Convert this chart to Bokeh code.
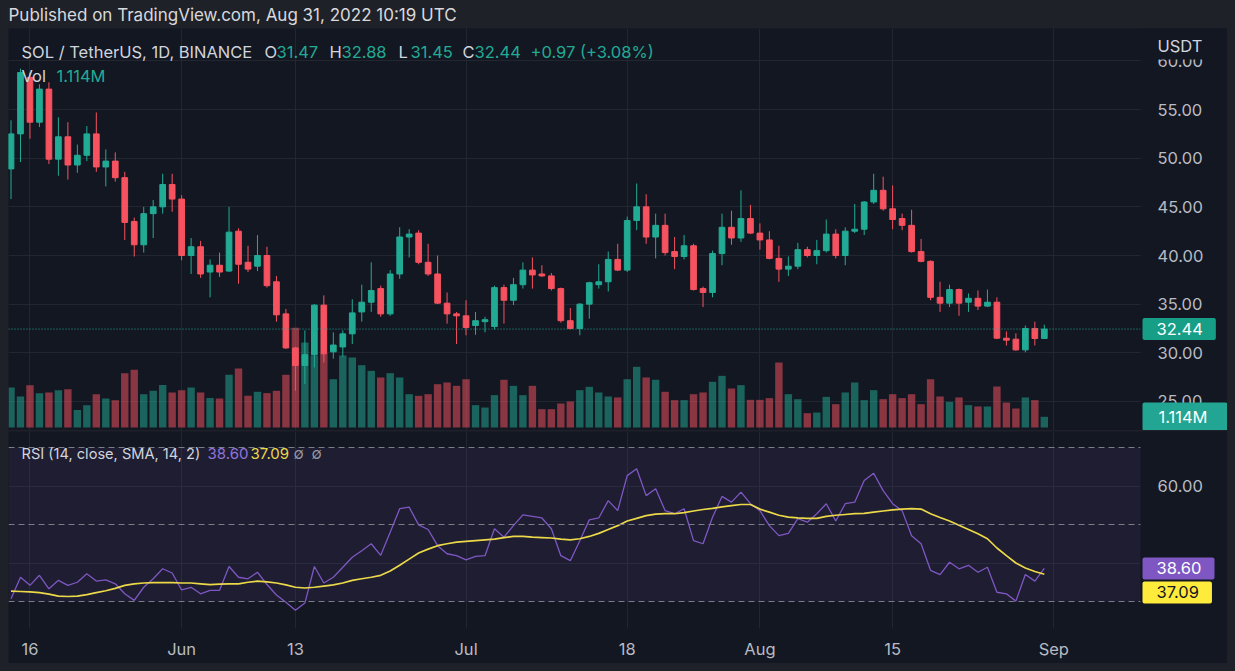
from datetime import date
from bokeh.plotting import figure
from bokeh.layouts import column, row
from bokeh.models import (Range1d, FixedTicker, Span, BoxAnnotation, Label, Spacer,
                          ColumnDataSource, GlobalInlineStyleSheet)
from bokeh.embed import file_html
from bokeh.resources import INLINE

# ---------------- data ----------------
start_date = date(2022, 5, 14)

opens = [48.9, 52.5, 58.3, 53.7, 57.1, 49.9, 52.2, 49.3, 50.3, 52.5,
         49.1, 49.7, 48.0, 43.5, 41.1, 44.3, 45.0, 47.3, 45.8, 40.0,
         40.9, 38.3, 39.0, 38.4, 42.5, 39.3, 38.9, 40.0, 37.3, 34.0,
         30.5, 28.7, 29.8, 34.9, 30.1, 30.6, 31.95, 34.2, 35.2, 36.6,
         34.0, 38.1, 41.9, 42.3, 39.3, 38.1, 35.1, 34.0, 33.8, 32.8,
         33.2, 32.7, 36.7, 35.4, 37.0, 38.5, 38.1, 37.9, 36.6, 33.3,
         32.5, 35.0, 37.0, 37.3, 39.6, 38.5, 43.6, 45.0, 41.9, 43.1,
         40.4, 39.9, 41.0, 36.6, 36.2, 40.2, 42.9, 41.8, 43.8, 42.3,
         41.6, 39.7, 38.6, 38.9, 40.6, 40.0, 40.5, 42.2, 40.0, 42.5,
         42.7, 45.5, 46.7, 44.8, 43.8, 43.1, 40.4, 39.4, 35.7, 35.1,
         36.5, 35.2, 35.6, 34.8, 35.2, 31.5, 31.4, 30.3, 32.5, 31.47]
highs = [53.9, 59.2, 58.8, 57.6, 57.8, 54.2, 53.7, 51.4, 53.3, 54.7,
         50.9, 50.6, 48.6, 43.9, 45.0, 45.7, 48.4, 48.4, 46.2, 41.8,
         41.5, 39.6, 40.3, 45.0, 42.8, 41.0, 42.1, 40.9, 37.9, 34.5,
         30.6, 32.3, 35.0, 35.9, 32.1, 32.3, 35.5, 37.0, 39.3, 36.9,
         38.5, 42.9, 42.7, 42.6, 41.2, 40.0, 36.2, 34.2, 35.4, 34.2,
         33.7, 36.9, 37.0, 37.7, 39.3, 39.8, 39.0, 38.2, 36.7, 34.6,
         35.1, 37.3, 39.1, 40.4, 41.2, 44.0, 47.4, 46.3, 44.3, 44.3,
         41.9, 42.1, 41.2, 36.8, 40.5, 44.3, 44.6, 46.7, 45.2, 43.3,
         42.5, 41.0, 39.9, 41.3, 40.9, 41.6, 43.7, 42.7, 42.9, 45.3,
         45.6, 48.4, 48.1, 47.2, 44.3, 44.7, 41.7, 39.5, 37.3, 37.0,
         36.6, 36.1, 36.4, 36.5, 35.7, 32.2, 32.0, 32.8, 33.2, 32.88]
lows = [45.8, 49.6, 52.0, 53.2, 49.4, 48.2, 47.8, 48.5, 49.7, 48.6,
        47.1, 47.6, 41.6, 39.9, 40.3, 41.8, 44.3, 44.5, 39.5, 38.1,
        37.7, 35.7, 37.8, 38.3, 37.1, 38.3, 38.4, 36.7, 33.2, 30.4,
        26.1, 26.8, 28.5, 29.0, 29.4, 29.6, 30.9, 33.2, 34.2, 33.7,
        33.8, 37.6, 39.8, 39.1, 37.9, 35.0, 33.0, 30.9, 31.8, 31.85,
        32.1, 32.4, 33.0, 34.9, 36.6, 36.6, 37.8, 36.4, 33.1, 32.4,
        31.8, 33.5, 36.6, 36.3, 38.4, 38.3, 42.6, 41.2, 39.7, 40.0,
        38.6, 39.6, 36.4, 34.7, 35.7, 39.0, 41.1, 41.4, 42.2, 40.6,
        39.6, 37.3, 37.9, 38.6, 39.8, 39.1, 40.3, 39.7, 39.0, 42.3,
        42.1, 45.3, 44.6, 42.7, 42.6, 40.3, 39.3, 35.4, 34.2, 34.7,
        33.8, 34.2, 34.4, 34.7, 31.4, 30.75, 30.2, 30.05, 30.75, 31.45]
closes = [52.5, 58.8, 53.7, 57.1, 49.9, 52.2, 49.3, 50.3, 52.5, 49.1,
          49.7, 48.0, 43.4, 41.1, 44.3, 45.0, 47.3, 45.8, 40.0, 40.9,
          38.1, 39.0, 38.3, 42.4, 39.1, 38.6, 40.0, 36.9, 33.9, 30.5,
          28.7, 29.8, 34.9, 29.9, 30.8, 31.95, 34.1, 35.2, 36.4, 34.0,
          38.1, 41.9, 42.2, 39.3, 38.1, 35.1, 34.0, 33.8, 32.6, 33.3,
          33.4, 36.7, 35.4, 37.0, 38.5, 38.0, 37.9, 36.6, 33.3, 32.5,
          35.0, 37.2, 37.3, 39.6, 38.5, 43.6, 45.0, 41.9, 43.1, 40.3,
          39.9, 41.0, 36.5, 36.2, 40.2, 42.9, 41.8, 43.8, 42.3, 41.6,
          39.7, 38.6, 38.9, 40.6, 40.0, 40.5, 42.2, 40.0, 42.5, 42.7,
          45.5, 46.7, 44.8, 43.7, 43.1, 40.4, 39.4, 35.7, 35.1, 36.5,
          35.1, 35.6, 34.8, 35.2, 31.5, 31.3, 30.3, 32.5, 31.47, 32.44]
volumes_m = [4.17, 3.23, 4.41, 3.58, 3.65, 3.89, 3.99, 1.81, 2.33, 3.47,
             3.02, 2.85, 5.66, 6.01, 3.47, 3.82, 4.44, 3.65, 3.89, 4.17,
             3.65, 3.06, 3.02, 5.49, 6.15, 3.30, 3.72, 3.58, 3.82, 5.49,
             10.4, 8.85, 7.5, 7.7, 5.03, 7.5, 7.29, 6.49, 5.90, 5.21,
             5.66, 5.21, 3.47, 3.30, 3.47, 4.51, 4.69, 4.34, 5.03, 2.33,
             2.08, 3.37, 4.97, 4.34, 3.37, 4.34, 1.91, 1.91, 2.50, 2.71,
             3.89, 4.24, 3.65, 3.23, 3.13, 5.03, 6.32, 5.21, 4.97, 3.72,
             2.85, 2.85, 3.47, 3.65, 4.76, 5.38, 4.06, 4.41, 2.88, 2.88,
             3.06, 6.77, 3.47, 2.95, 1.49, 1.56, 3.19, 2.43, 3.65, 4.69,
             2.85, 3.89, 2.95, 3.47, 3.06, 3.47, 2.43, 5.03, 3.23, 2.67,
             3.13, 2.33, 2.19, 2.19, 4.27, 2.60, 1.98, 3.13, 2.85, 1.114]
rsi = [30.7, 36.3, 34.2, 36.8, 33.3, 35.5, 34.2, 35.0, 37.2, 35.3,
       35.6, 34.6, 32.0, 30.3, 33.7, 35.9, 38.5, 37.4, 33.0, 33.7,
       32.0, 32.9, 32.9, 39.1, 36.3, 35.9, 37.6, 34.4, 31.7, 29.8,
       27.7, 29.6, 39.1, 34.8, 36.3, 38.9, 41.5, 43.2, 45.0, 42.0,
       48.0, 54.1, 54.5, 49.9, 48.7, 44.5, 42.4, 41.9, 40.8, 41.7,
       41.9, 48.9, 46.7, 49.7, 52.5, 52.1, 51.7, 48.9, 41.9, 40.6,
       45.8, 51.2, 51.7, 56.2, 53.6, 62.7, 64.5, 57.5, 59.3, 53.6,
       52.8, 54.1, 45.8, 45.0, 51.9, 57.3, 55.8, 58.4, 55.4, 53.6,
       49.7, 47.1, 47.7, 51.5, 50.6, 52.8, 55.4, 50.9, 55.4, 55.8,
       61.4, 63.3, 58.8, 55.4, 53.6, 47.1, 45.0, 38.1, 37.0, 40.2,
       38.5, 39.4, 37.6, 38.9, 32.4, 32.0, 30.1, 37.0, 35.3, 38.60]
rsi_ma = [32.7, 32.6, 32.5, 32.3, 31.9, 31.4, 31.3, 31.4, 31.8, 32.3,
          32.8, 33.4, 34.2, 34.6, 34.8, 34.9, 34.9, 34.9, 34.8, 34.8,
          34.6, 34.4, 34.5, 34.6, 34.6, 35.0, 35.3, 35.1, 34.8, 34.3,
          33.7, 33.5, 33.7, 34.0, 34.3, 34.8, 35.5, 35.9, 36.3, 36.8,
          37.9, 39.4, 41.0, 42.6, 43.6, 44.5, 45.0, 45.4, 45.6, 45.8,
          46.0, 46.2, 46.6, 46.9, 46.9, 46.7, 46.6, 46.5, 46.2, 46.0,
          46.3, 46.9, 47.7, 48.7, 49.7, 50.9, 51.6, 52.3, 52.7, 52.8,
          52.8, 53.1, 53.5, 53.9, 54.2, 54.6, 54.9, 55.2, 55.2, 54.0,
          53.2, 52.4, 51.9, 51.7, 51.6, 51.6, 52.1, 52.4, 52.6, 52.8,
          52.9, 53.2, 53.5, 53.8, 54.0, 54.1, 54.0, 52.8, 51.8, 50.9,
          49.8, 48.7, 47.6, 46.3, 43.9, 41.9, 40.0, 38.7, 37.8, 37.09]

tick_dates = [date(2022, 5, 16), date(2022, 6, 1), date(2022, 6, 13), date(2022, 7, 1),
              date(2022, 7, 18), date(2022, 8, 1), date(2022, 8, 15), date(2022, 9, 1)]
tick_labels = ["16", "Jun", "13", "Jul", "18", "Aug", "15", "Sep"]
price_ticks = [25, 30, 35, 40, 45, 50, 55, 60]
rsi_ticks = [40, 60]
rsi_label_ticks = [60]          # 40.00 is hidden behind the value tags
rsi_levels = [70, 50, 30]

header_text = "Published on TradingView.com, Aug 31, 2022 10:19 UTC"
symbol_text = "SOL / TetherUS, 1D, BINANCE"
change_text = "+0.97 (+3.08%)"
vol_text = "1.114M"
rsi_title = "RSI (14, close, SMA, 14, 2)"
currency_text = "USDT"

# ---------------- style / layout constants ----------------
BG = "#131722"
HDR = "#1f2128"
GRID = "#222631"
UP = "#22ab94"
DN = "#f7525f"
TXT = "#d1d4dc"
AXTXT = "#b8bbc3"
PURPLE = "#7e57c2"
YELLOW = "#ecd949"
FONT = "Inter"
FS = "16.5px"
FS_RSI = "15px"

PAGE_W = 1235
LEFT = 8
W = 1219                 # chart frame width (page x 8 .. 1227)
SCALE_X = 1140 - LEFT    # where the price scale starts (frame px)
HEADER_H = 28
MAIN_H = 402             # page y 28 .. 430
RSI_FRAME = 197          # page y 431 .. 628
RSI_H = RSI_FRAME + 35   # time axis below
PX_PER_DAY = 9.48
PX_PER_USD = 9.73
PX_PER_MVOL = 9.6
PX_PER_RSI = 3.85

X0 = -2.5 / PX_PER_DAY
xr = Range1d(X0, X0 + W / PX_PER_DAY)
x_scale = X0 + SCALE_X / PX_PER_DAY

n = len(closes)
xs = list(range(n))
is_up = [c >= o for o, c in zip(opens, closes)]
src = ColumnDataSource(dict(
    x=xs, o=opens, h=highs, l=lows, c=closes,
    top=[max(o, c) for o, c in zip(opens, closes)],
    bot=[min(o, c) for o, c in zip(opens, closes)],
    vol=volumes_m,
    col=[UP if u else DN for u in is_up],
))
tick_pos = [(d - start_date).days for d in tick_dates]
BOX_PAD = dict(left=14, right=13, top=5, bottom=5)


def lab(fig, x, y, text, color, size=FS, xu="screen", yu="screen", **kw):
    fig.add_layout(Label(x=x, y=y, x_units=xu, y_units=yu, text=text, text_color=color,
                         text_font=FONT, text_font_size=size, text_baseline="middle",
                         text_align="left", **kw))


def base_fig(height, yrange, bottom_border, x_axis):
    f = figure(width=W, height=height, x_range=xr, y_range=yrange,
               toolbar_location=None, output_backend="svg",
               x_axis_location="below" if x_axis else None, y_axis_location=None,
               min_border_left=0, min_border_right=0, min_border_top=0,
               min_border_bottom=bottom_border, background_fill_color=BG,
               border_fill_color=BG, outline_line_color=None)
    f.xgrid.ticker = FixedTicker(ticks=tick_pos)
    f.grid.grid_line_color = GRID
    return f


# ---------------- header ----------------
hdr = figure(width=PAGE_W, height=HEADER_H, x_range=Range1d(0, 1), y_range=Range1d(0, 1),
             toolbar_location=None, output_backend="svg", x_axis_location=None,
             y_axis_location=None, min_border=0, background_fill_color=HDR,
             border_fill_color=HDR, outline_line_color=None)
hdr.grid.visible = False
lab(hdr, 8, 14, header_text, "#d8d9dc", size="17px")

# ---------------- main pane ----------------
p_lo = 30 - (430 - 352.3) / PX_PER_USD
v_lo = -3 / PX_PER_MVOL
p = base_fig(MAIN_H, Range1d(p_lo, p_lo + MAIN_H / PX_PER_USD), 0, False)
p.extra_y_ranges = {"vol": Range1d(v_lo, v_lo + MAIN_H / PX_PER_MVOL)}
p.ygrid.ticker = FixedTicker(ticks=price_ticks)

p.segment(x0="x", y0="l", x1="x", y1="h", line_color="col", line_width=1, source=src)
p.vbar(x="x", width=0.6, top="top", bottom="bot", fill_color="col", line_color="col",
       line_width=1, source=src)
p.vbar(x="x", width=0.78, top="vol", bottom=0, y_range_name="vol", fill_color="col",
       fill_alpha=0.52, line_color=None, source=src)
p.add_layout(Span(location=closes[-1], dimension="width", line_color=UP,
                  line_dash="1 2", line_width=1))
# price scale area
p.add_layout(BoxAnnotation(left=x_scale, fill_color=BG, fill_alpha=1.0, line_color=None))
for t in price_ticks:
    lab(p, 1149, t, "%.2f" % t, AXTXT, yu="data")

# legend rows
lab(p, 13, 379, symbol_text, TXT)
for x, t, c in [(256, "O", TXT), (268, "%.2f" % opens[-1], UP), (321, "H", TXT),
                (333, "%.2f" % highs[-1], UP), (390, "L", TXT), (402, "%.2f" % lows[-1], UP),
                (454, "C", TXT), (466, "%.2f" % closes[-1], UP), (522, change_text, UP)]:
    lab(p, x, 379, t, c)
lab(p, 13, 355, "Vol", TXT)
lab(p, 48, 355, vol_text, UP)

lab(p, 1145, 385, currency_text, TXT, background_fill_color=BG,
    padding=dict(left=4, right=10, top=4, bottom=4))
lab(p, 1134, closes[-1], "%.2f" % closes[-1], "#ffffff", yu="data",
    background_fill_color="#169e86", padding=BOX_PAD, border_radius=2)
lab(p, 1134, 14, vol_text, "#ffffff", background_fill_color="#22a592",
    padding=dict(left=16, right=20, top=4, bottom=4), border_radius=2)

# ---------------- RSI pane ----------------
r_hi = 70 + (447 - 431) / PX_PER_RSI
q = base_fig(RSI_H, Range1d(r_hi - RSI_FRAME / PX_PER_RSI, r_hi), 35, True)
q.ygrid.ticker = FixedTicker(ticks=rsi_ticks)
q.add_layout(BoxAnnotation(bottom=min(rsi_levels), top=max(rsi_levels), fill_color=PURPLE,
                           fill_alpha=0.1, line_color=None, level="underlay"))
for lv in rsi_levels:
    q.add_layout(Span(location=lv, dimension="width", line_color="#7a7d88",
                      line_dash="6 4", line_width=1))
q.line(xs, rsi, line_color=PURPLE, line_width=1.3)
q.line(xs, rsi_ma, line_color=YELLOW, line_width=1.7)
q.add_layout(BoxAnnotation(left=x_scale, fill_color=BG, fill_alpha=1.0, line_color=None))
for t in rsi_label_ticks:
    lab(q, 1149, t, "%.2f" % t, AXTXT, yu="data")

xa = q.xaxis[0]
xa.ticker = FixedTicker(ticks=tick_pos)
xa.major_label_overrides = {t: s for t, s in zip(tick_pos, tick_labels)}
xa.axis_line_color = None
xa.major_tick_line_color = None
xa.minor_tick_line_color = None
xa.major_tick_out = 0
xa.minor_tick_out = 0
xa.major_label_standoff = 10
xa.major_label_text_color = AXTXT
xa.major_label_text_font = FONT
xa.major_label_text_font_size = FS

lab(q, 13, 175, rsi_title, TXT, size="14.6px")
lab(q, 199, 175, "%.2f" % rsi[-1], "#9173da", size=FS_RSI)
lab(q, 242, 175, "%.2f" % rsi_ma[-1], YELLOW, size=FS_RSI)
lab(q, 285, 175, "\u2205", "#9598a1", size=FS_RSI)
lab(q, 303, 175, "\u2205", "#9598a1", size=FS_RSI)

box_gap = 24 / PX_PER_RSI
lab(q, 1134, rsi[-1], "%.2f" % rsi[-1], "#ffffff", yu="data",
    background_fill_color=PURPLE, padding=BOX_PAD, border_radius=2)
lab(q, 1134, rsi[-1] - box_gap, "%.2f" % rsi_ma[-1], "#131722", yu="data",
    background_fill_color="#ffeb3b", padding=BOX_PAD, border_radius=2)

layout = column(
    hdr,
    row(Spacer(width=LEFT, height=MAIN_H), column(p, q, spacing=1)),
    stylesheets=[GlobalInlineStyleSheet(
        css="html, body { background-color: %s; overflow: hidden; }" % HDR)],
)

open("out.html", "w").write(file_html(layout, INLINE))
